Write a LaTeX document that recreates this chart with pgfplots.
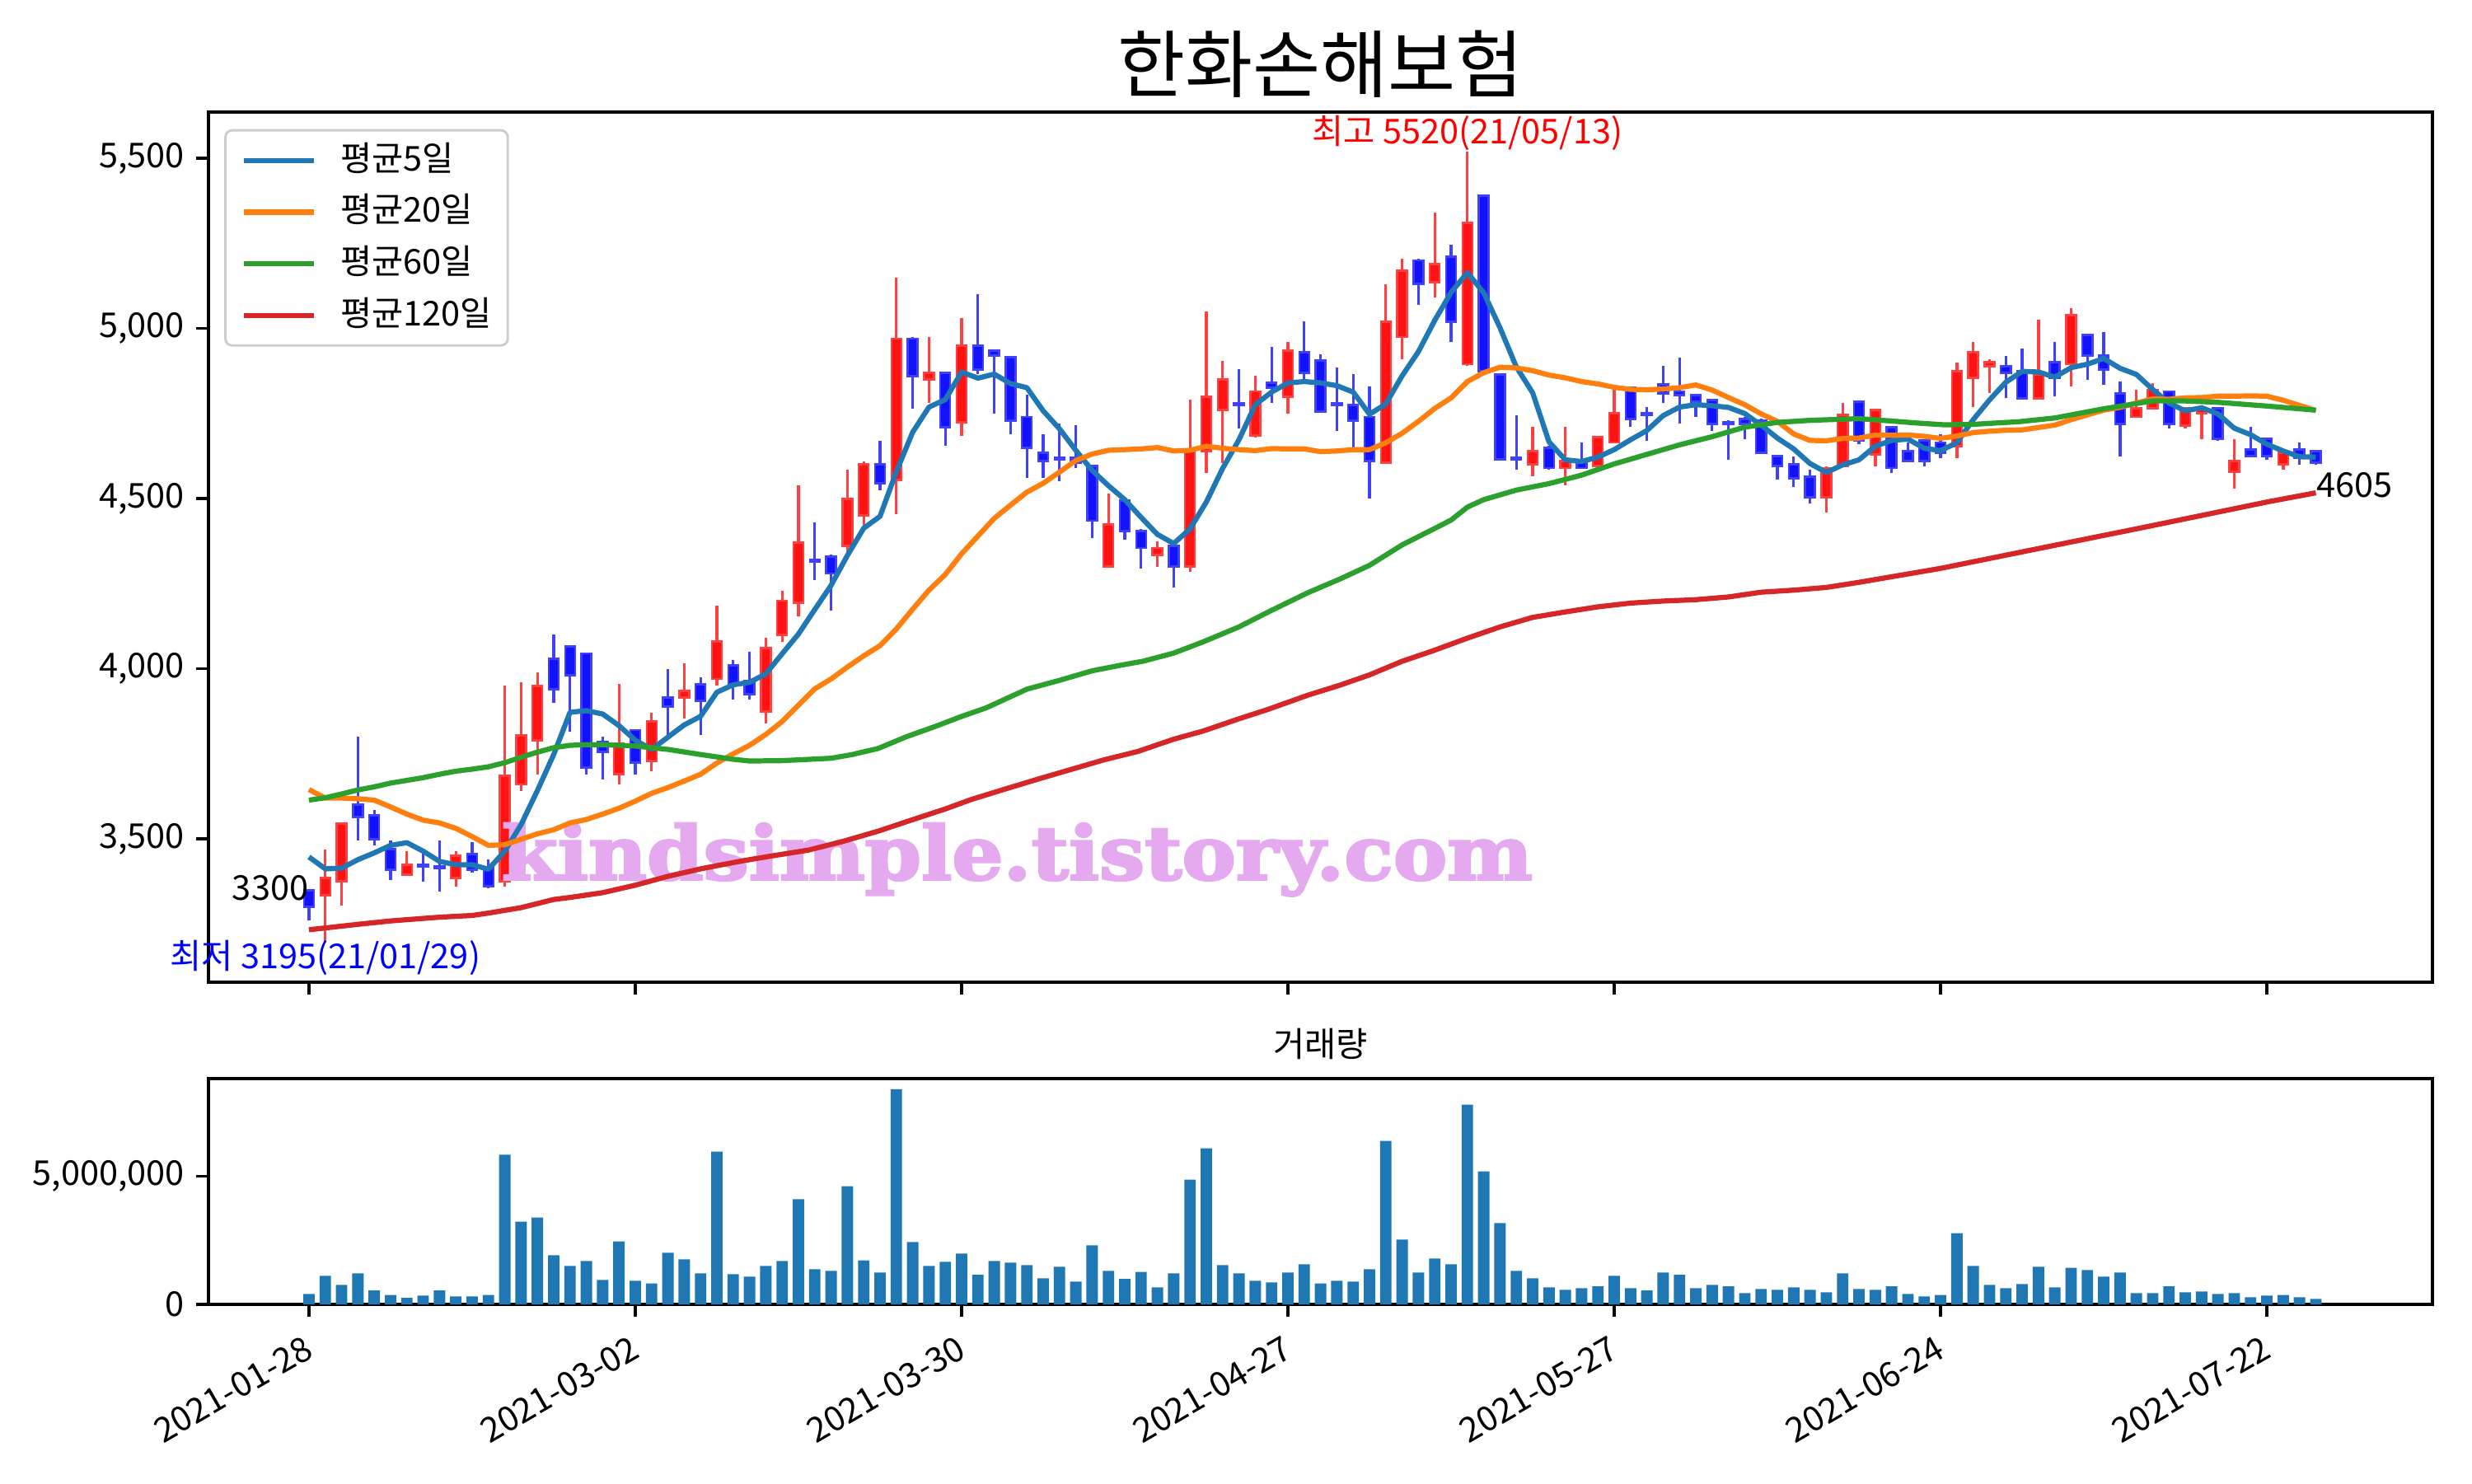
\documentclass[border=0pt]{standalone}
\usepackage{fontspec}
\setmainfont{Noto Sans CJK KR}
\newfontfamily\wmfont{DejaVu Serif}[BoldFeatures={FakeBold=3}]
\usepackage{graphicx}
\usepackage{pgfplots}
\usepackage{pgfplotstable}
\pgfplotsset{compat=1.18}

\definecolor{ma5}{HTML}{1F77B4}
\definecolor{ma20}{HTML}{FF7F0E}
\definecolor{ma60}{HTML}{2CA02C}
\definecolor{ma120}{HTML}{D62728}
\definecolor{upfill}{RGB}{255,18,18}
\definecolor{upedge}{RGB}{255,64,64}
\definecolor{dnfill}{RGB}{18,18,255}
\definecolor{dnedge}{RGB}{64,64,255}
\definecolor{wm}{RGB}{229,169,239}
\definecolor{legframe}{RGB}{204,204,204}

% rising candles (close > open), red
\pgfplotstableread{
i O H L C
1 3335 3470 3195 3385
2 3375 3545 3305 3545
6 3395 3465 3395 3425
9 3385 3465 3360 3450
12 3375 3950 3360 3685
13 3660 3960 3640 3805
14 3790 3990 3690 3950
19 3690 3955 3660 3780
21 3730 3870 3700 3845
23 3915 4015 3855 3935
25 3970 4185 3950 4080
28 3875 4090 3840 4060
29 4100 4230 4080 4200
30 4195 4540 4155 4370
33 4360 4585 4320 4500
34 4450 4610 4415 4600
36 4555 5150 4455 4970
38 4850 4975 4780 4870
40 4725 5030 4685 4950
49 4300 4515 4300 4425
52 4335 4375 4300 4355
54 4300 4790 4285 4640
55 4640 5050 4575 4800
56 4760 4905 4605 4850
58 4685 4860 4680 4815
60 4800 4960 4750 4935
66 4605 5130 4605 5020
67 4975 5205 4910 5170
69 5135 5340 5090 5190
71 4895 5520 4890 5310
75 4600 4710 4565 4640
77 4590 4710 4540 4610
79 4595 4680 4590 4680
80 4665 4820 4665 4750
93 4505 4595 4460 4590
94 4595 4780 4595 4745
96 4630 4760 4595 4760
101 4655 4900 4620 4875
102 4855 4960 4770 4930
103 4890 4910 4810 4900
106 4795 5025 4795 4865
108 4895 5060 4830 5040
112 4740 4820 4740 4765
113 4765 4840 4765 4820
115 4715 4765 4705 4765
116 4750 4765 4675 4765
118 4580 4675 4530 4610
121 4600 4635 4585 4635
}\candleup

% falling candles (close <= open), blue
\pgfplotstableread{
i O H L C
0 3350 3350 3260 3300
3 3600 3800 3495 3565
4 3570 3585 3480 3500
5 3470 3495 3380 3410
7 3425 3465 3375 3420
8 3420 3495 3345 3415
10 3455 3490 3400 3410
11 3415 3440 3355 3360
15 4030 4100 3900 3940
16 4065 4070 3815 3980
17 4045 4045 3690 3710
18 3785 3800 3675 3755
20 3820 3820 3690 3725
22 3915 4000 3805 3890
24 3955 3975 3805 3905
26 4010 4025 3910 3955
27 3965 4050 3910 3925
31 4320 4430 4260 4315
32 4330 4335 4170 4280
35 4600 4670 4525 4545
37 4970 4975 4765 4860
39 4870 4870 4655 4710
41 4950 5100 4865 4880
42 4935 4935 4750 4920
43 4915 4915 4690 4730
44 4740 4805 4560 4650
45 4635 4690 4560 4610
46 4620 4720 4550 4615
47 4620 4715 4590 4605
48 4595 4595 4385 4435
50 4495 4495 4380 4405
51 4405 4410 4295 4355
53 4360 4360 4240 4300
57 4780 4880 4705 4775
59 4840 4945 4780 4825
61 4930 5020 4850 4870
62 4905 4925 4755 4755
63 4780 4885 4700 4775
64 4775 4865 4650 4730
65 4740 4830 4500 4610
68 5200 5205 5070 5130
70 5210 5245 4960 5020
72 5390 5390 4875 4875
73 4865 4865 4615 4615
74 4620 4745 4585 4615
76 4650 4655 4585 4590
78 4610 4665 4590 4590
81 4825 4825 4710 4735
82 4750 4770 4670 4745
83 4835 4890 4780 4810
84 4815 4915 4720 4805
85 4805 4805 4740 4785
86 4790 4790 4700 4720
87 4725 4730 4615 4720
88 4735 4740 4675 4720
89 4730 4735 4630 4635
90 4625 4625 4555 4595
91 4600 4625 4535 4560
92 4565 4585 4485 4505
95 4785 4785 4660 4670
97 4710 4710 4575 4590
98 4640 4665 4610 4610
99 4670 4675 4595 4610
100 4665 4690 4620 4635
104 4890 4920 4795 4870
105 4875 4940 4795 4795
107 4900 4960 4800 4855
109 4980 4980 4850 4920
110 4920 4990 4835 4880
111 4810 4845 4625 4720
114 4815 4815 4705 4720
117 4765 4765 4670 4675
119 4645 4710 4625 4625
120 4675 4680 4615 4625
122 4645 4665 4600 4620
123 4640 4640 4600 4605
}\candledn

\pgfplotstableread{
x y
0 3447
1 3412
2 3414
3 3439
4 3459
5 3481
6 3489
7 3464
8 3434
9 3424
10 3424
11 3411
12 3464
13 3542
14 3642
15 3748
16 3872
17 3877
18 3867
19 3833
20 3790
21 3763
22 3799
23 3835
24 3860
25 3931
26 3953
27 3960
28 3985
29 4044
30 4102
31 4174
32 4245
33 4333
34 4413
35 4448
36 4579
37 4695
38 4769
39 4791
40 4872
41 4854
42 4866
43 4838
44 4826
45 4758
46 4705
47 4642
48 4583
49 4538
50 4497
51 4445
52 4395
53 4368
54 4411
55 4490
56 4589
57 4673
58 4776
59 4813
60 4840
61 4844
62 4840
63 4832
64 4813
65 4748
66 4778
67 4861
68 4932
69 5024
70 5106
71 5164
72 5105
73 5002
74 4887
75 4811
76 4667
77 4614
78 4609
79 4622
80 4644
81 4673
82 4700
83 4744
84 4769
85 4776
86 4773
87 4768
88 4750
89 4716
90 4678
91 4646
92 4603
93 4577
94 4599
95 4614
96 4654
97 4671
98 4675
99 4648
100 4641
101 4664
102 4732
103 4790
104 4842
105 4874
106 4872
107 4857
108 4885
109 4895
110 4912
111 4883
112 4865
113 4821
114 4781
115 4758
116 4767
117 4749
118 4707
119 4688
120 4660
121 4640
122 4623
123 4622
}\mafive

\pgfplotstableread{
x y
0 3645
1 3620
2 3620
3 3618
4 3614
5 3594
6 3573
7 3555
8 3547
9 3531
10 3507
11 3481
12 3483
13 3499
14 3515
15 3527
16 3547
17 3557
18 3573
19 3590
20 3611
21 3634
22 3651
23 3670
24 3690
25 3723
26 3750
27 3775
28 3807
29 3845
30 3893
31 3941
32 3970
33 4005
34 4038
35 4068
36 4117
37 4175
38 4231
39 4277
40 4338
41 4390
42 4442
43 4481
44 4519
45 4545
46 4578
47 4612
48 4631
49 4642
50 4644
51 4646
52 4650
53 4640
54 4642
55 4654
56 4648
57 4644
58 4641
59 4647
60 4646
61 4646
62 4638
63 4640
64 4644
65 4644
66 4664
67 4692
68 4727
69 4765
70 4796
71 4844
72 4870
73 4886
74 4884
75 4876
76 4863
77 4855
78 4844
79 4837
80 4827
81 4821
82 4820
83 4822
84 4826
85 4834
86 4819
87 4797
88 4776
89 4749
90 4727
91 4690
92 4671
93 4670
94 4677
95 4678
96 4687
97 4686
98 4687
99 4683
100 4677
101 4684
102 4694
103 4698
104 4701
105 4702
106 4709
107 4716
108 4732
109 4746
110 4760
111 4768
112 4781
113 4793
114 4792
115 4796
116 4797
117 4801
118 4801
119 4802
120 4801
121 4789
122 4774
123 4759
}\matwenty

\pgfplotstableread{
x y
0 3614
1 3621
2 3632
3 3644
4 3653
5 3664
6 3672
7 3680
8 3690
9 3699
10 3705
11 3712
12 3724
13 3740
14 3755
15 3768
16 3775
17 3777
18 3777
20 3773
22 3763
24 3748
26 3734
27 3729
29 3730
32 3737
33.3 3748
34.9 3766
36.6 3800
38.3 3829
40 3860
41.5 3885
43 3918
44 3940
46 3966
48 3994
49.7 4010
51.1 4022
53 4046
54.8 4079
57 4123
58.8 4167
61.2 4223
63.2 4264
65 4304
67 4364
68.9 4410
70 4437
71 4475
72 4497
74 4525
76 4544
78 4569
80 4602
82 4630
84 4658
86 4682
88 4710
90 4724
92 4730
95 4735
97 4728
98.6 4722
100.2 4717
101.9 4718
104.8 4726
107 4737
110 4764
113 4787
115 4787
117 4783
120 4772
123 4760
}\masixty

\pgfplotstableread{
x y
0 3233
3 3249
5 3259
8 3270
10 3275
11 3282
12 3290
13 3298
14 3310
15 3322
16 3328
18 3342
20 3364
22 3390
24 3412
26.5 3435
28.5 3451
30.6 3467
32.6 3491
34.9 3523
36.9 3555
39 3588
40.6 3616
42.7 3647
44.7 3676
46.7 3704
48.7 3732
50.8 3757
53 3793
54.8 3817
57 3853
58.8 3881
61.2 3922
63.2 3952
65 3982
67 4022
68.9 4053
71 4090
73 4123
75 4151
77 4167
79 4182
81 4193
83 4199
85 4203
87 4211
89 4225
91 4231
93 4239
95 4254
100 4295
106.6 4359
112.4 4415
120 4490
123 4517
}\maonetwenty

\pgfplotstableread{
i V
0 410000
1 1110000
2 760000
3 1210000
4 540000
5 370000
6 250000
7 340000
8 540000
9 310000
10 310000
11 370000
12 5840000
13 3230000
14 3390000
15 1920000
16 1500000
17 1690000
18 950000
19 2460000
20 920000
21 820000
22 2010000
23 1760000
24 1210000
25 5960000
26 1180000
27 1080000
28 1500000
29 1690000
30 4100000
31 1370000
32 1310000
33 4610000
34 1720000
35 1240000
36 8400000
37 2430000
38 1500000
39 1660000
40 1980000
41 1150000
42 1690000
43 1630000
44 1530000
45 1020000
46 1470000
47 890000
48 2300000
49 1310000
50 990000
51 1270000
52 660000
53 1210000
54 4870000
55 6090000
56 1530000
57 1210000
58 920000
59 860000
60 1240000
61 1560000
62 820000
63 920000
64 890000
65 1370000
66 6380000
67 2530000
68 1240000
69 1790000
70 1560000
71 7790000
72 5190000
73 3170000
74 1310000
75 1020000
76 660000
77 570000
78 630000
79 700000
80 1110000
81 630000
82 540000
83 1240000
84 1150000
85 630000
86 760000
87 700000
88 440000
89 600000
90 570000
91 660000
92 570000
93 470000
94 1210000
95 600000
96 570000
97 700000
98 410000
99 310000
100 370000
101 2780000
102 1500000
103 760000
104 630000
105 790000
106 1470000
107 660000
108 1430000
109 1340000
110 1080000
111 1240000
112 440000
113 440000
114 700000
115 470000
116 500000
117 410000
118 440000
119 280000
120 340000
121 370000
122 280000
123 210000
}\volume

\pgfplotsset{
  mpl/.style={
    scale only axis,
    xmin=-6.16, xmax=130.15,
    tick align=outside, tick pos=left,
    major tick length=3.5pt,
    tick style={line width=0.8pt, black},
    axis line style={line width=0.8pt},
    tick label style={font=\fontsize{10}{12}\selectfont},
    clip mode=individual,
  },
  candle/.style 2 args={forget plot, draw=none, mark=none,
    error bars/.cd, y dir=plus, y explicit, error mark=none,
    error bar style={line width=#1, draw=#2, solid}},
  edgemark/.style={forget plot, only marks, mark=-, mark size=1.75pt,
    mark options={line width=0.7pt, draw=#1, fill=#1}},
}

\begin{document}
\begin{tikzpicture}
\fill[white] (0,0) rectangle (10in,6in);
\useasboundingbox (0,0) rectangle (10in,6in);

\begin{axis}[mpl,
  at={(0.8433in,2.0267in)}, anchor=south west,
  width=8.9967in, height=3.52in,
  ymin=3079, ymax=5636,
  xtick={0,20,...,120}, xticklabels={},
  ytick={3500,4000,4500,5000,5500},
  yticklabels={{3,500},{4,000},{4,500},{5,000},{5,500}},
  legend cell align=left,
  legend style={at={(0,1)}, anchor=north west, xshift=4.6pt, yshift=-5pt,
    draw=legframe, line width=0.7pt, fill=white, rounded corners=2pt,
    font=\fontsize{10}{12}\selectfont,
    inner xsep=4.6pt, inner ysep=3.8pt,
    row sep=5.1pt, column sep=7pt,
    nodes={inner sep=0pt, text height=8pt, text depth=2pt},
    cells={anchor=west}},
  legend image code/.code={\draw[#1, line width=1.5pt] (0pt,0pt) -- (20.6pt,0pt);},
]
% wicks
\addplot[candle={0.8pt}{upedge}]
  table[x=i, y=L, y error plus expr=\thisrow{H}-\thisrow{L}] {\candleup};
\addplot[candle={0.8pt}{dnedge}]
  table[x=i, y=L, y error plus expr=\thisrow{H}-\thisrow{L}] {\candledn};
% bodies
\addplot[candle={3.5pt}{upedge}]
  table[x=i, y=O, y error plus expr=\thisrow{C}-\thisrow{O}] {\candleup};
\addplot[candle={2.3pt}{upfill}]
  table[x=i, y=O, y error plus expr=\thisrow{C}-\thisrow{O}] {\candleup};
\addplot[edgemark=upedge] table[x=i, y=O] {\candleup};
\addplot[edgemark=upedge] table[x=i, y=C] {\candleup};
\addplot[candle={3.5pt}{dnedge}]
  table[x=i, y=C, y error plus expr=\thisrow{O}-\thisrow{C}] {\candledn};
\addplot[candle={2.3pt}{dnfill}]
  table[x=i, y=C, y error plus expr=\thisrow{O}-\thisrow{C}] {\candledn};
\addplot[edgemark=dnedge] table[x=i, y=O] {\candledn};
\addplot[edgemark=dnedge] table[x=i, y=C] {\candledn};

% watermark
\node[inner sep=0pt, text=wm] at (axis cs:43.4,3439)
  {\resizebox*{4.17in}{0.295in}{\wmfont\bfseries kindsimple.tistory.com}};

% moving averages
\addplot[ma5, line width=1.5pt, line join=round] table[x=x, y=y] {\mafive};
\addlegendentry{평균5일}
\addplot[ma20, line width=1.5pt, line join=round] table[x=x, y=y] {\matwenty};
\addlegendentry{평균20일}
\addplot[ma60, line width=1.5pt, line join=round] table[x=x, y=y] {\masixty};
\addlegendentry{평균60일}
\addplot[ma120, line width=1.5pt, line join=round] table[x=x, y=y] {\maonetwenty};
\addlegendentry{평균120일}

% annotations
\node[anchor=south, inner sep=0pt, text=red, font=\fontsize{10}{12}\selectfont]
  at (axis cs:71,5520) {최고 5520(21/05/13)};
\node[anchor=north, inner sep=0pt, text=blue, font=\fontsize{10}{12}\selectfont, yshift=1pt]
  at (axis cs:1,3195) {최저 3195(21/01/29)};
\node[anchor=south east, inner sep=0pt, font=\fontsize{10}{12}\selectfont, yshift=1.7pt]
  at (axis cs:0,3300) {3300};
\node[anchor=north west, inner sep=0pt, font=\fontsize{10}{12}\selectfont, yshift=-2.6pt]
  at (axis cs:123,4605) {4605};

% title
\node[anchor=base, inner sep=0pt, font=\fontsize{21.5}{25}\selectfont, yshift=6pt]
  at (rel axis cs:0.5,1) {한화손해보험};
\end{axis}

\begin{axis}[mpl,
  at={(0.8433in,0.7233in)}, anchor=south west,
  width=8.9967in, height=0.9133in,
  ymin=0, ymax=8810000,
  xtick={0,20,...,120},
  xticklabels={2021-01-28,2021-03-02,2021-03-30,2021-04-27,2021-05-27,2021-06-24,2021-07-22},
  xticklabel style={rotate=30, anchor=north east, inner sep=0pt, xshift=-4pt, yshift=-3.5pt},
  ytick={0,5000000}, yticklabels={0,{5,000,000}},
  scaled y ticks=false,
]
\addplot[ybar, bar width=0.7, fill=ma5, draw=none] table[x=i, y=V] {\volume};
\node[anchor=base, inner sep=0pt, font=\fontsize{10}{12}\selectfont, yshift=6.5pt]
  at (rel axis cs:0.5,1) {거래량};
\end{axis}
\end{tikzpicture}
\end{document}
